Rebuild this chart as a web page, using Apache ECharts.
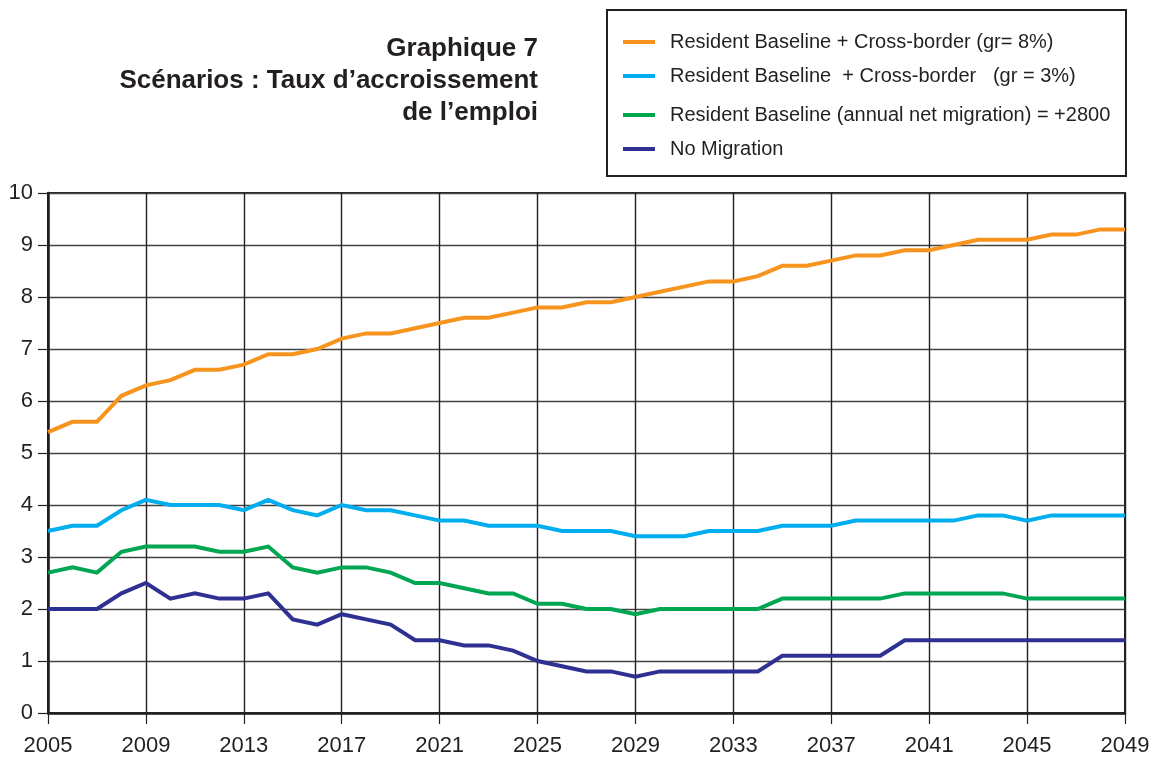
<!DOCTYPE html>
<html>
<head>
<meta charset="utf-8">
<script src="https://cdn.jsdelivr.net/npm/echarts@6/dist/echarts.min.js"></script>
<style>
  html, body { margin: 0; padding: 0; background: #fff; }
  #chart { width: 1160px; height: 764px; }
</style>
</head>
<body>
<div id="chart"></div>
<script>
// Years on the horizontal axis
const years = [];
for (let y = 2005; y <= 2049; y++) years.push(String(y));

// Employment growth scenarios, one value per year 2005–2049
const crossBorder8 = [5.4, 5.6, 5.6, 6.1, 6.3, 6.4, 6.6, 6.6, 6.7, 6.9, 6.9, 7.0, 7.2, 7.3, 7.3, 7.4,
  7.5, 7.6, 7.6, 7.7, 7.8, 7.8, 7.9, 7.9, 8.0, 8.1, 8.2, 8.3, 8.3, 8.4, 8.6, 8.6, 8.7, 8.8, 8.8,
  8.9, 8.9, 9.0, 9.1, 9.1, 9.1, 9.2, 9.2, 9.3, 9.3];
const crossBorder3 = [3.5, 3.6, 3.6, 3.9, 4.1, 4.0, 4.0, 4.0, 3.9, 4.1, 3.9, 3.8, 4.0, 3.9, 3.9, 3.8,
  3.7, 3.7, 3.6, 3.6, 3.6, 3.5, 3.5, 3.5, 3.4, 3.4, 3.4, 3.5, 3.5, 3.5, 3.6, 3.6, 3.6, 3.7, 3.7,
  3.7, 3.7, 3.7, 3.8, 3.8, 3.7, 3.8, 3.8, 3.8, 3.8];
const netMigration = [2.7, 2.8, 2.7, 3.1, 3.2, 3.2, 3.2, 3.1, 3.1, 3.2, 2.8, 2.7, 2.8, 2.8, 2.7, 2.5,
  2.5, 2.4, 2.3, 2.3, 2.1, 2.1, 2.0, 2.0, 1.9, 2.0, 2.0, 2.0, 2.0, 2.0, 2.2, 2.2, 2.2, 2.2, 2.2,
  2.3, 2.3, 2.3, 2.3, 2.3, 2.2, 2.2, 2.2, 2.2, 2.2];
const noMigration = [2.0, 2.0, 2.0, 2.3, 2.5, 2.2, 2.3, 2.2, 2.2, 2.3, 1.8, 1.7, 1.9, 1.8, 1.7, 1.4,
  1.4, 1.3, 1.3, 1.2, 1.0, 0.9, 0.8, 0.8, 0.7, 0.8, 0.8, 0.8, 0.8, 0.8, 1.1, 1.1, 1.1, 1.1, 1.1,
  1.4, 1.4, 1.4, 1.4, 1.4, 1.4, 1.4, 1.4, 1.4, 1.4];

const seriesNames = [
  'Resident Baseline + Cross-border (gr= 8%)',
  'Resident Baseline  + Cross-border   (gr = 3%)',
  'Resident Baseline (annual net migration) = +2800',
  'No Migration'
];
const seriesColors = ['#F7941D', '#00AEEF', '#00A651', '#2E3192'];
const seriesData = [crossBorder8, crossBorder3, netMigration, noMigration];

const titleLines = ['Graphique 7', 'Scénarios : Taux d\u2019accroissement', 'de l\u2019emploi'];

const FONT = '"Liberation Sans", Arial, Helvetica, sans-serif';
const INK = '#231f20';

const legendRowY = [42, 76, 115, 149];

const chart = echarts.init(document.getElementById('chart'), null, { renderer: 'canvas' });

chart.setOption({
  animation: false,
  backgroundColor: '#ffffff',
  textStyle: { fontFamily: FONT },
  grid: {
    left: 48, right: 35, top: 193, bottom: 51,
    show: true, borderColor: '#231f20', borderWidth: 2, containLabel: false
  },
  xAxis: {
    type: 'category',
    data: years,
    boundaryGap: false,
    axisLine: { lineStyle: { color: '#231f20', width: 2.5 } },
    axisTick: { show: true, interval: 3, length: 11, lineStyle: { color: '#231f20', width: 1.2 } },
    axisLabel: { interval: 3, color: INK, fontSize: 22, fontFamily: FONT, margin: 22 },
    splitLine: { show: true, interval: 3, lineStyle: { color: '#231f20', width: 1.4 } }
  },
  yAxis: {
    type: 'value',
    min: 0, max: 10, interval: 1,
    axisLine: { show: true, lineStyle: { color: '#231f20', width: 2.5 } },
    axisTick: { show: true, length: 10, lineStyle: { color: '#231f20', width: 1.2 } },
    axisLabel: { color: INK, fontSize: 22, fontFamily: FONT, margin: 15 },
    splitLine: { show: true, lineStyle: { color: '#444444', width: 1.4 } }
  },
  legend: seriesNames.map((name, i) => ({
    data: [name],
    left: 623,
    top: legendRowY[i] - 10,
    padding: 0,
    orient: 'horizontal',
    icon: 'rect',
    itemWidth: 32,
    itemHeight: 4,
    itemGap: 0,
    selectedMode: false,
    textStyle: { color: INK, fontSize: 20, fontFamily: FONT, padding: [0, 0, 0, 10] }
  })),
  graphic: [
    {
      type: 'rect',
      shape: { x: 607, y: 10, width: 519, height: 166 },
      style: { fill: 'none', stroke: '#231f20', lineWidth: 2 },
      silent: true
    },
    ...titleLines.map((line, i) => ({
      type: 'text',
      x: 538,
      y: 49 + i * 32,
      style: {
        text: line,
        fill: INK,
        font: 'bold 26px ' + FONT,
        align: 'right',
        verticalAlign: 'middle'
      },
      silent: true
    }))
  ],
  series: seriesNames.map((name, i) => ({
    name: name,
    type: 'line',
    data: seriesData[i],
    symbol: 'none',
    lineStyle: { color: seriesColors[i], width: 4, join: 'miter' },
    itemStyle: { color: seriesColors[i] },
    z: 3 + i
  }))
});
</script>
</body>
</html>
